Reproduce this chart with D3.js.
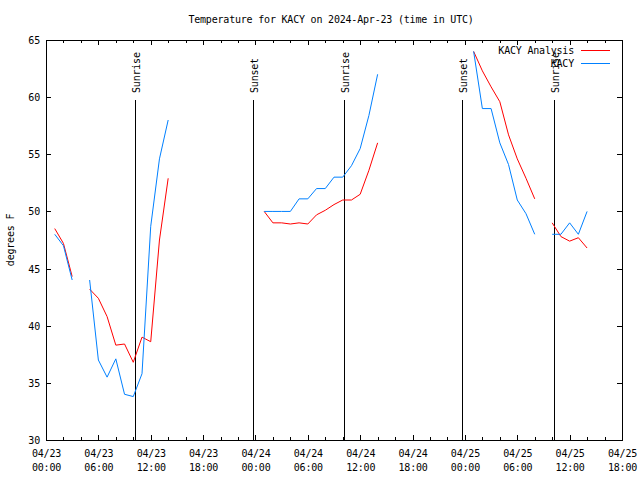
<!DOCTYPE html>
<html>
<head>
<meta charset="utf-8">
<script src="https://cdn.jsdelivr.net/npm/d3@7"></script>
<style>
  html, body { margin: 0; padding: 0; background: #fff; }
  text { font-family: "DejaVu Sans Mono", "Liberation Mono", monospace; font-size: 10px; letter-spacing: -0.2px; fill: #000; }
</style>
</head>
<body>
<svg id="chart" width="640" height="480"></svg>
<script>
// ---- data ----
const titleText = "Temperature for KACY on 2024-Apr-23 (time in UTC)";
const yLabel = "degrees F";
const startTime = "2024-04-23T00:00:00Z";
const endTime = "2024-04-25T18:00:00Z";
// hours after 2024-04-23 00:00 UTC
const hours = [1,2,3,4,5,6,7,8,9,10,11,12,13,14,15,16,17,18,19,20,21,22,23,24,
  25,26,27,28,29,30,31,32,33,34,35,36,37,38,39,40,41,42,43,44,45,46,47,48,
  49,50,51,52,53,54,55,56,57,58,59,60,61,62];
const analysisTemps = [48.5,47.2,44.3,null,43.2,42.4,40.8,38.3,38.4,36.8,39.0,38.6,47.5,52.9,
  null,null,null,null,null,null,null,null,null,null,
  50.0,49.0,49.0,48.9,49.0,48.9,49.7,50.1,50.6,51.0,51.0,51.5,53.6,56.0,
  null,null,null,null,null,null,null,null,null,null,
  64.0,62.3,60.9,59.6,56.7,54.6,52.9,51.1,null,49.0,47.8,47.4,47.7,46.8];
const obsTemps = [48.0,47.0,44.0,null,44.0,37.0,35.5,37.1,34.0,33.8,35.8,48.7,54.6,58.0,
  null,null,null,null,null,null,null,null,null,null,
  50.0,50.0,50.0,50.0,51.1,51.1,52.0,52.0,53.0,53.0,54.0,55.5,58.4,62.0,
  null,null,null,null,null,null,null,null,null,null,
  64.0,59.0,59.0,56.0,54.1,51.0,49.8,48.0,null,48.0,48.0,49.0,48.0,50.0];
const seriesNames = ["KACY Analysis", "KACY"];
const seriesColors = ["#ff0000", "#0080ff"];
const eventTimes = ["2024-04-23T10:14:00Z","2024-04-23T23:40:00Z","2024-04-24T10:12:00Z","2024-04-24T23:41:00Z","2024-04-25T10:11:00Z"];
const eventLabels = ["Sunrise","Sunset","Sunrise","Sunset","Sunrise"];
const yTicks = [30,35,40,45,50,55,60,65];

// ---- layout ----
const svg = d3.select("#chart");
const L = 46, R = 622, T = 40, B = 440;
const t0 = new Date(startTime), t1 = new Date(endTime);
const x = d3.scaleUtc().domain([t0, t1]).range([L, R]);
const y = d3.scaleLinear().domain([30, 65]).range([B, T]);
const hourDate = h => new Date(t0.getTime() + h * 3600000);

const majorTicks = d3.utcHour.every(6).range(t0, new Date(t1.getTime() + 1));
const minorTicks = d3.utcHour.every(2).range(t0, new Date(t1.getTime() + 1));
const fmtDay = d3.utcFormat("%m/%d"), fmtTime = d3.utcFormat("%H:%M");

const g = svg.append("g").attr("shape-rendering", "crispEdges");

// ticks (bottom/top), inward
function drawTicks(vals, len) {
  vals.forEach(d => {
    const xx = Math.round(x(d)) + 0.5;
    g.append("line").attr("x1", xx).attr("x2", xx).attr("y1", B).attr("y2", B - len).attr("stroke", "#000");
    g.append("line").attr("x1", xx).attr("x2", xx).attr("y1", T).attr("y2", T + len).attr("stroke", "#000");
  });
}
drawTicks(minorTicks, 3);
drawTicks(majorTicks, 5);

// bottom axis labels via d3 axis
const xAxis = svg.append("g").attr("transform", `translate(0,${B})`)
  .call(d3.axisBottom(x).tickValues(majorTicks).tickSize(0).tickPadding(0).tickFormat(""));
xAxis.select(".domain").remove();
xAxis.selectAll(".tick").each(function(d) {
  const t = d3.select(this);
  t.append("text").attr("y", 17).attr("text-anchor", "middle").text(fmtDay(d));
  t.append("text").attr("y", 31).attr("text-anchor", "middle").text(fmtTime(d));
});

// y axis
const yAxis = svg.append("g").attr("transform", `translate(${L},0)`)
  .call(d3.axisLeft(y).tickValues(yTicks).tickSize(0).tickPadding(6).tickFormat(d3.format("d")));
yAxis.select(".domain").remove();
yAxis.selectAll(".tick text").attr("font-family", null).attr("font-size", null).attr("dy", "0.35em");
yTicks.forEach(v => {
  const yy = Math.round(y(v)) + 0.5;
  g.append("line").attr("x1", L).attr("x2", L + 5).attr("y1", yy).attr("y2", yy).attr("stroke", "#000");
  g.append("line").attr("x1", R - 5).attr("x2", R).attr("y1", yy).attr("y2", yy).attr("stroke", "#000");
});

// border
g.append("rect").attr("x", L + 0.5).attr("y", T + 0.5).attr("width", R - L).attr("height", B - T)
  .attr("fill", "none").attr("stroke", "#000");

// event lines
eventTimes.forEach((et, i) => {
  const xx = Math.round(x(new Date(et))) + 0.5;
  g.append("line").attr("x1", xx).attr("x2", xx).attr("y1", 100).attr("y2", B).attr("stroke", "#000");
  svg.append("text").attr("transform", `translate(${xx + 4},93) rotate(-90)`)
    .attr("text-anchor", "start").text(eventLabels[i]);
});

// series
const seriesData = [analysisTemps, obsTemps];
seriesData.forEach((vals, si) => {
  const pts = hours.map((h, i) => ({ t: hourDate(h), v: vals[i] }));
  const line = d3.line().defined(d => d.v !== null).x(d => x(d.t)).y(d => y(d.v));
  svg.append("path").datum(pts).attr("d", line).attr("fill", "none")
    .attr("stroke", seriesColors[si]).attr("stroke-width", 1);
});

// legend
seriesNames.forEach((name, i) => {
  const ly = 50 + i * 13;
  svg.append("text").attr("x", 574).attr("y", ly + 3.5).attr("text-anchor", "end").text(name);
  svg.append("line").attr("x1", 581).attr("x2", 610).attr("y1", ly + 0.5).attr("y2", ly + 0.5)
    .attr("stroke", seriesColors[i]).attr("stroke-width", 1).attr("shape-rendering", "crispEdges");
});

// title and y label
svg.append("text").attr("x", 331).attr("y", 23).attr("text-anchor", "middle").text(titleText);
svg.append("text").attr("transform", "translate(14,240) rotate(-90)").attr("text-anchor", "middle").text(yLabel);
</script>
</body>
</html>
